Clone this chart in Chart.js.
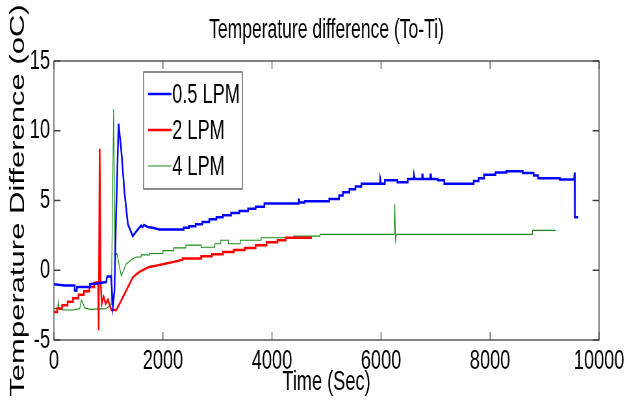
<!DOCTYPE html>
<html>
<head>
<meta charset="utf-8">
<script src="https://cdn.jsdelivr.net/npm/chart.js@4.4.0/dist/chart.umd.min.js"></script>
<style>
  html, body { margin: 0; padding: 0; background: #fff; }
</style>
</head>
<body>
<!-- drawn wide and squeezed to 640px, like the stretched original figure -->
<canvas id="plot" width="985" height="403" style="width:640px;height:403px;display:block"></canvas>
<script>
// series: time (s) and temperature difference (oC)
var blueTime = [0, 200, 380, 380, 420, 420, 660, 660, 780, 960, 975, 1050, 1080, 1110, 1140, 1186, 1235, 1296, 1357, 1445,
  1535, 1600, 1627, 1650, 1720, 1810, 1934, 2380, 2380, 2480, 2480, 2600, 2600, 2720, 2720, 2850, 2850, 2980, 2980, 3100,
  3100, 3250, 3250, 3400, 3400, 3560, 3560, 3700, 3700, 3860, 3860, 4489, 4489, 4500, 4500, 4600, 4600, 5050, 5050, 5230,
  5230, 5300, 5300, 5420, 5420, 5530, 5530, 5640, 5640, 5980, 5985, 5995, 6000, 6070, 6070, 6300, 6300, 6490, 6490, 6600,
  6605, 6615, 6620, 6750, 6755, 6765, 6770, 6900, 6905, 6915, 6920, 7040, 7040, 7160, 7160, 7700, 7700, 7790, 7790, 7890,
  7890, 8100, 8100, 8300, 8300, 8600, 8600, 8800, 8800, 8880, 8880, 9280, 9280, 9540, 9550, 9556, 9617];
var blueTemp = [-1.0, -1.1, -1.1, -1.45, -1.45, -1.2, -1.2, -1.0, -0.95, -0.85, -0.45, -0.45, -2.6, -1.5, 4.0, 10.5, 8.6, 5.5, 3.3, 2.45,
  2.9, 3.2, 3.1, 3.25, 3.1, 3.05, 2.93, 2.93, 3.05, 3.05, 3.15, 3.15, 3.3, 3.3, 3.45, 3.45, 3.65, 3.65, 3.8, 3.8,
  3.95, 3.95, 4.1, 4.1, 4.25, 4.25, 4.4, 4.4, 4.55, 4.55, 4.78, 4.78, 5.05, 5.05, 4.85, 4.85, 4.95, 4.95, 5.1, 5.1,
  5.35, 5.35, 5.6, 5.6, 5.8, 5.8, 6.0, 6.0, 6.2, 6.2, 6.55, 6.55, 6.2, 6.2, 6.45, 6.45, 6.3, 6.3, 6.55, 6.55,
  6.85, 6.85, 6.55, 6.55, 6.85, 6.85, 6.55, 6.55, 6.85, 6.85, 6.55, 6.55, 6.45, 6.45, 6.2, 6.2, 6.4, 6.4, 6.6, 6.6,
  6.85, 6.85, 7.0, 7.0, 7.1, 7.1, 6.98, 6.98, 6.8, 6.8, 6.6, 6.6, 6.5, 6.5, 7.0, 3.8, 3.8];

var redTime = [0, 60, 60, 150, 150, 250, 250, 350, 350, 450, 450, 550, 550, 650, 650, 740, 740, 809, 820, 839,
  857, 876, 912, 949, 991, 1052, 1143, 1204, 1326, 1448, 1569, 1700, 1752, 1900, 2056, 2200, 2360, 2360, 2700, 2700,
  2900, 2900, 3100, 3100, 3300, 3300, 3500, 3500, 3700, 3700, 3900, 3900, 4100, 4100, 4250, 4250, 4732];
var redTemp = [-3.0, -3.0, -2.75, -2.75, -2.5, -2.5, -2.25, -2.25, -2.0, -2.0, -1.75, -1.75, -1.5, -1.5, -1.2, -1.2, -0.9, -0.85, -4.3, 8.7,
  -0.7, -2.4, -1.9, -2.4, -2.1, -2.85, -2.85, -2.4, -1.45, -0.5, -0.12, 0.15, 0.24, 0.35, 0.48, 0.6, 0.76, 0.85, 0.85, 1.0,
  1.0, 1.15, 1.15, 1.3, 1.3, 1.45, 1.45, 1.6, 1.6, 1.8, 1.8, 2.0, 2.0, 2.15, 2.15, 2.33, 2.33];

var greenTime = [0, 70, 80, 95, 170, 353, 474, 505, 566, 657, 960, 1052, 1095, 1120, 1155, 1235, 1326, 1420, 1509, 1600,
  1600, 1750, 1750, 2000, 2000, 2200, 2200, 2420, 2420, 2700, 2700, 2950, 2950, 3060, 3060, 3200, 3200, 3420, 3420, 3800,
  3800, 4400, 4400, 4880, 4880, 6240, 6253, 6265, 6280, 8777, 8777, 9203];
var greenTemp = [-2.75, -2.75, -2.25, -2.75, -2.85, -2.85, -2.75, -2.15, -2.7, -2.8, -2.75, -2.45, 11.55, 1.0, 1.2, -0.4, 0.45, 0.75, 0.95, 0.95,
  1.1, 1.1, 1.2, 1.2, 1.4, 1.4, 1.6, 1.6, 1.8, 1.8, 1.65, 1.65, 1.9, 1.9, 2.15, 2.15, 1.9, 1.9, 2.15, 2.15,
  2.33, 2.33, 2.45, 2.45, 2.57, 2.57, 4.76, 2.14, 2.57, 2.57, 2.86, 2.86];

var seriesNames = ["0.5 LPM", "2 LPM", "4 LPM"];
var xTicks = [0, 2000, 4000, 6000, 8000, 10000];
var yTicks = [-5, 0, 5, 10, 15];

function toPoints(xs, ys) {
  return xs.map(function (x, i) { return { x: x, y: ys[i] }; });
}

var fontName = "'Liberation Sans', Arial, sans-serif";

// matlab style frame with inward ticks on all four sides
var boxTicks = {
  id: 'boxTicks',
  afterDatasetsDraw: function (chart) {
    var ctx = chart.ctx, a = chart.chartArea;
    var sx = chart.scales.x, sy = chart.scales.y;
    ctx.save();
    ctx.strokeStyle = '#404040';
    ctx.lineWidth = 1.3;
    ctx.strokeRect(a.left, a.top, a.right - a.left, a.bottom - a.top);
    ctx.beginPath();
    xTicks.forEach(function (v) {
      var px = sx.getPixelForValue(v);
      ctx.moveTo(px, a.bottom); ctx.lineTo(px, a.bottom - 8);
      ctx.moveTo(px, a.top); ctx.lineTo(px, a.top + 8);
    });
    yTicks.forEach(function (v) {
      var py = sy.getPixelForValue(v);
      ctx.moveTo(a.left, py); ctx.lineTo(a.left + 10, py);
      ctx.moveTo(a.right, py); ctx.lineTo(a.right - 10, py);
    });
    ctx.stroke();
    ctx.restore();
  }
};

// boxed legend inside the axes, upper left
var boxLegend = {
  id: 'boxLegend',
  afterDraw: function (chart) {
    var ctx = chart.ctx;
    var left = 221, right = 373, top = 72, bottom = 189;
    ctx.save();
    ctx.fillStyle = '#fff';
    ctx.fillRect(left, top, right - left, bottom - top);
    ctx.strokeStyle = '#404040';
    ctx.lineWidth = 1.2;
    ctx.strokeRect(left, top, right - left, bottom - top);
    ctx.font = '28px ' + fontName;
    ctx.textBaseline = 'middle';
    ctx.textAlign = 'left';
    chart.data.datasets.forEach(function (ds, i) {
      var y = 94 + i * 36;
      ctx.strokeStyle = ds.borderColor;
      ctx.lineWidth = ds.borderWidth;
      ctx.beginPath();
      ctx.moveTo(228, y); ctx.lineTo(264, y);
      ctx.stroke();
      ctx.fillStyle = '#000';
      ctx.fillText(ds.label, 265, y + 1);
    });
    ctx.restore();
  }
};

var plotData = {
  datasets: [{
    label: seriesNames[0],
    data: toPoints(blueTime, blueTemp),
    borderColor: '#0000ff',
    borderWidth: 2.5
  }, {
    label: seriesNames[1],
    data: toPoints(redTime, redTemp),
    borderColor: '#ff0000',
    borderWidth: 2.5
  }, {
    label: seriesNames[2],
    data: toPoints(greenTime, greenTemp),
    borderColor: '#1a8c1a',
    borderWidth: 1.2
  }]
};

var plotOptions = {
  responsive: false,
  animation: false,
  layout: { padding: { left: 0, right: 63, top: 0, bottom: 0 } },
  elements: { point: { radius: 0 }, line: { tension: 0 } },
  plugins: {
    legend: { display: false },
    tooltip: { enabled: false },
    title: {
      display: true,
      text: 'Temperature difference (To-Ti)',
      color: '#000',
      fullSize: false,
      font: { family: fontName, size: 27, weight: 'normal' },
      padding: { top: 14, bottom: 14.6 }
    }
  },
  scales: {
    x: {
      type: 'linear',
      min: 0, max: 10000,
      afterBuildTicks: function (s) { s.ticks = xTicks.map(function (v) { return { value: v }; }); },
      afterFit: function (s) { s.height = 63; },
      grid: { display: false, drawTicks: false },
      border: { display: false },
      ticks: {
        color: '#000', padding: 4, maxRotation: 0,
        font: { family: fontName, size: 28 },
        callback: function (v) { return String(v); }
      },
      title: {
        display: true, text: 'Time (Sec)', color: '#000',
        font: { family: fontName, size: 28 },
        padding: { top: 0, bottom: 4 }
      }
    },
    y: {
      min: -5, max: 15,
      afterBuildTicks: function (s) { s.ticks = yTicks.map(function (v) { return { value: v }; }); },
      afterFit: function (s) { s.width = 83; },
      grid: { display: false, drawTicks: false },
      border: { display: false },
      ticks: {
        color: '#000', padding: 6,
        font: { family: fontName, size: 28 },
        callback: function (v) { return String(v); }
      },
      title: {
        display: true, text: 'Temperature Difference (oC)', color: '#000',
        font: { family: fontName, size: 31 },
        padding: { top: 10, bottom: 0 }
      }
    }
  }
};

var ctx = document.getElementById("plot");

var myChart = new Chart(ctx, {
  type: 'line',
  data: plotData,
  options: plotOptions,
  plugins: [boxTicks, boxLegend]
});
</script>
</body>
</html>
